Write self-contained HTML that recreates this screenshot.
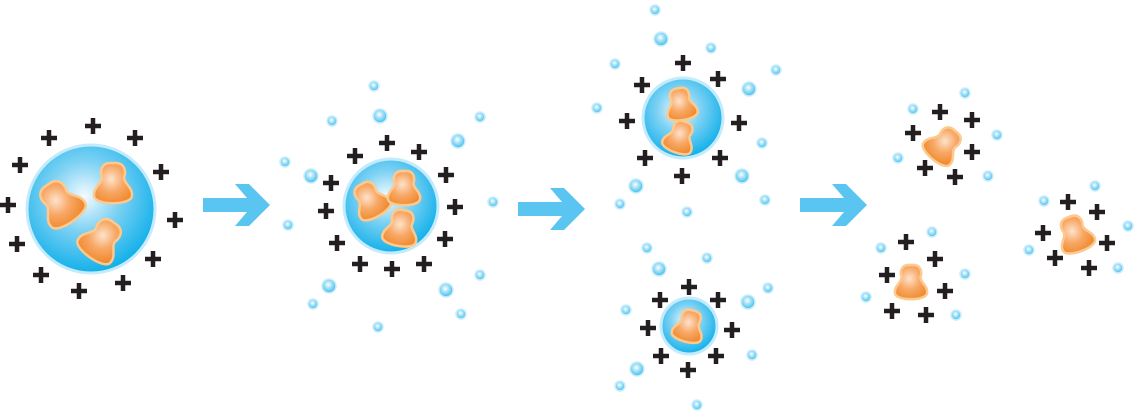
<!DOCTYPE html>
<html><head><meta charset="utf-8"><style>html,body{margin:0;padding:0;background:#fff}svg{display:block}</style></head>
<body>
<svg id="s" width="1137" height="416" viewBox="0 0 1137 416">
<defs>
<radialGradient id="drop" cx="0.45" cy="0.4" r="0.6"><stop offset="0" stop-color="#f4fbff"/><stop offset="0.45" stop-color="#7fd2f4"/><stop offset="1" stop-color="#12b0ea"/></radialGradient>
<radialGradient id="blob" cx="0.45" cy="0.4" r="0.65"><stop offset="0" stop-color="#fde3cc"/><stop offset="0.5" stop-color="#f8a866"/><stop offset="1" stop-color="#ef8a2e"/></radialGradient>
<radialGradient id="bub" cx="0.45" cy="0.4" r="0.6"><stop offset="0" stop-color="#ffffff"/><stop offset="0.4" stop-color="#a9e2f8"/><stop offset="1" stop-color="#3fbdee"/></radialGradient>
</defs>
</svg>
<script>
const droplets=[[91,209,64],[391,206,47],[683,118,40],[689,326,28]];
const blobs=[[60,203,44,-35],[113,183,40,0],[102,240,42,35],[370,200,36,-30],[404,188,34,0],[401,228,36,10],[681,104,32,-10],[680,137,32,20],[689,326,32,15],[944,145,36,40],[911,282,34,0],[1075,234,36,-20]];
const pluses=[[49,138],[93,126],[135,138],[20,165],[161,172],[8,205],[175,220],[17,244],[153,259],[41,275],[79,291],[123,283],
[355,156],[387,143],[419,152],[331,183],[446,175],[326,211],[455,207],[337,243],[445,239],[360,264],[392,269],[424,264],
[683,63],[642,85],[718,79],[627,121],[739,123],[645,158],[720,158],[682,176],
[660,300],[689,287],[718,300],[648,328],[732,330],[661,356],[716,356],[688,370],
[940,112],[972,120],[913,133],[972,152],[925,168],[955,177],
[906,242],[935,259],[887,275],[945,291],[892,311],[926,315],
[1068,202],[1097,212],[1043,233],[1107,243],[1055,258],[1089,268]];
const bubbles=[[374,86,5],[380,116,7],[332,121,5],[480,117,5],[458,141,7],[285,162,5],[311,176,7],[493,202,5],[288,225,5],[480,275,5],[329,286,7],[446,290,7],[313,304,5],[461,314,5],[378,327,5],
[655,10,5],[661,39,7],[711,48,5],[615,64,5],[776,70,5],[749,89,7],[597,108,5],[762,143,5],[742,176,7],[636,186,7],[620,204,5],[687,212,5],[765,200,5],
[647,248,5],[659,269,7],[707,258,5],[748,302,7],[768,288,5],[626,310,5],[752,355,5],[637,369,7],[620,386,5],[697,405,5],
[913,109,5],[965,93,5],[997,135,5],[898,158,5],[988,176,5],
[881,248,5],[932,232,5],[965,274,5],[866,297,5],[956,315,5],
[1095,186,5],[1044,201,5],[1128,226,5],[1029,250,5],[1118,268,5]];
const arrows=[[203,205],[518,209],[800,205]];
const s=document.getElementById('s');const NS='http://www.w3.org/2000/svg';
function mk(t,a){const e=document.createElementNS(NS,t);for(const k in a)e.setAttribute(k,a[k]);s.appendChild(e);return e;}
arrows.forEach(a=>{const e=mk('path',{d:`M${a[0]},${a[1]-7} h44 l-12,-14 h14 l21,21 l-21,21 h-14 l12,-14 h-44 z`,fill:'#5bc5f2'});

});
droplets.forEach(d=>{const e=mk('circle',{cx:d[0],cy:d[1],r:d[2],fill:'url(#drop)',stroke:'#c4ebfb','stroke-width':3});

});
const bp='M0,-0.5 C0.3,-0.53 0.33,-0.3 0.28,-0.15 C0.25,0 0.52,0.12 0.47,0.34 C0.42,0.56 -0.42,0.56 -0.47,0.34 C-0.52,0.12 -0.25,0 -0.28,-0.15 C-0.33,-0.3 -0.3,-0.53 0,-0.5 Z';
blobs.forEach(b=>{const e=mk('path',{d:bp,transform:`translate(${b[0]},${b[1]}) rotate(${b[3]}) scale(${b[2]})`,fill:'url(#blob)',stroke:'#fcc98f','stroke-width':2.5/b[2]});

});
pluses.forEach(p=>{const e=mk('path',{d:`M${p[0]-8},${p[1]} h16 M${p[0]},${p[1]-8} v16`,stroke:'#231f20','stroke-width':4.5});

});
bubbles.forEach(b=>{const e=mk('circle',{cx:b[0],cy:b[1],r:b[2],fill:'url(#bub)',stroke:'#c9eefc','stroke-width':1.5});

});
</script>
</body></html>
